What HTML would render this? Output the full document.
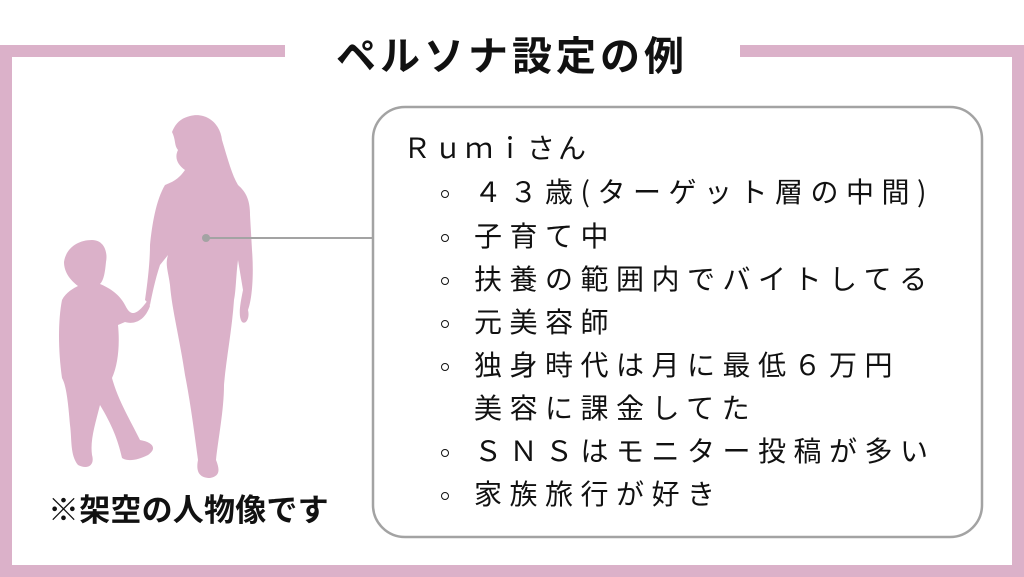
<!DOCTYPE html>
<html><head><meta charset="utf-8"><style>
body{margin:0;width:1024px;height:577px;overflow:hidden;background:#fff;position:relative;font-family:"Liberation Sans","Noto Sans CJK JP",sans-serif}
.b{position:absolute;background:#dbb1c9}
.t{position:absolute;font-family:"Noto Sans CJK JP",sans-serif;font-weight:400;font-size:28px;letter-spacing:7.5px;color:#111;white-space:nowrap;line-height:1}
.d{position:absolute;width:6px;height:6px;border:1.3px solid #111;border-radius:50%}
</style></head><body>
<div class="b" style="left:0;top:45px;width:285px;height:12px"></div>
<div class="b" style="left:740px;top:45px;width:284px;height:12px"></div>
<div class="b" style="left:0;top:45px;width:12px;height:532px"></div>
<div class="b" style="left:1012px;top:45px;width:12px;height:532px"></div>
<div class="b" style="left:0;top:565px;width:1024px;height:12px"></div>
<div style="position:absolute;left:300px;top:27px;width:424px;text-align:center;font-family:'Noto Sans CJK JP',sans-serif;font-weight:700;font-size:40px;letter-spacing:4px;color:#111;line-height:52px">ペルソナ設定の例</div>
<svg style="position:absolute;left:0;top:0" width="1024" height="577">
<g fill="#dbb1c9">
<path d="M190 116 C205 112 220 122 222 140 C228 160 232 175 238 185 C246 192 250 200 250 215 L252 250 C254 275 252 300 248 310 C250 318 246 325 242 322 C238 316 240 305 243 290 L238 260 C236 275 236 290 234 300 C232 330 226 360 224 385 C224 410 218 440 216 460 C220 470 220 476 210 478 C198 478 196 470 198 460 C194 430 190 400 185 375 C180 340 172 310 170 285 C168 270 165 265 168 255 L160 265 C155 280 152 295 150 305 L145 300 C148 280 150 260 150 245 C152 225 156 200 165 185 C172 182 178 180 185 170 C178 165 174 158 178 150 C174 145 176 140 172 132 C176 122 182 118 190 116 Z"/>
<path d="M92 240 C104 240 108 252 106 262 C105 272 104 280 100 284 C110 288 120 295 125 305 C130 315 135 318 148 300 L150 306 C145 320 135 325 125 322 L118 325 C120 345 118 365 112 378 C118 400 130 420 140 440 C152 442 158 448 148 455 C138 460 128 462 122 458 C118 440 112 425 100 405 C95 425 90 440 92 455 C95 465 88 470 78 465 C70 455 72 440 70 425 C68 400 66 385 62 378 C58 350 58 320 62 300 C66 292 74 288 78 286 C70 280 64 272 64 262 C66 248 78 240 92 240 Z"/>
</g>
<line x1="206" y1="238" x2="373" y2="238" stroke="#a3a3a3" stroke-width="2"/>
<circle cx="206" cy="238" r="4" fill="#a3a3a3"/>
<rect x="373" y="107" width="609" height="430" rx="32" fill="none" stroke="#a3a3a3" stroke-width="2.5"/>
</svg>
<div style="position:absolute;left:48px;top:486px;font-family:'Noto Sans CJK JP',sans-serif;font-weight:700;font-size:31px;color:#111;line-height:44px;letter-spacing:0.2px">※架空の人物像です</div>
<div class="t" style="left:403px;top:133px;letter-spacing:3px">Ｒｕｍｉさん</div>
<div class="d" style="left:441px;top:190px"></div><div class="t" style="left:474px;top:177px">４３歳(ターゲット層の中間)</div>
<div class="d" style="left:441px;top:234px"></div><div class="t" style="left:474px;top:221px">子育て中</div>
<div class="d" style="left:441px;top:277px"></div><div class="t" style="left:474px;top:264px">扶養の範囲内でバイトしてる</div>
<div class="d" style="left:441px;top:320px"></div><div class="t" style="left:474px;top:307px">元美容師</div>
<div class="d" style="left:441px;top:363px"></div><div class="t" style="left:474px;top:350px">独身時代は月に最低６万円</div>
<div class="t" style="left:474px;top:393px">美容に課金してた</div>
<div class="d" style="left:441px;top:449px"></div><div class="t" style="left:474px;top:436px">ＳＮＳはモニター投稿が多い</div>
<div class="d" style="left:441px;top:492px"></div><div class="t" style="left:474px;top:479px">家族旅行が好き</div>
</body></html>
